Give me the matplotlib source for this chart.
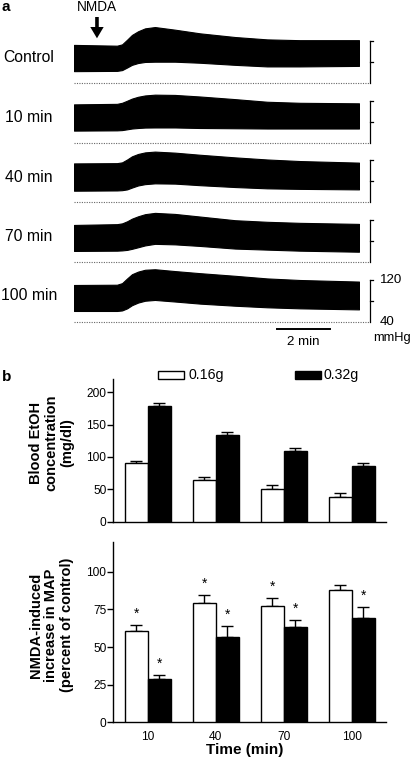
import matplotlib
matplotlib.use('Agg')
import matplotlib.pyplot as plt
import matplotlib.transforms as mtransforms
from matplotlib.patches import Polygon, Rectangle
import numpy as np

plt.rcParams['font.family'] = ['Liberation Sans', 'DejaVu Sans']

# ---------------- data ----------------
row_labels = ['Control', '10 min', '40 min', '70 min', '100 min']
trace_time = [0, 1.61, 1.80, 1.99, 2.17, 2.40, 2.66, 3.03, 3.78, 4.72, 6.03, 7.23, 8.46, 10.67]  # min
upper_control = [112, 110.5, 113, 122, 131, 138, 143.5, 146, 141, 134, 127, 122.5, 121, 121]
lower_control = [62, 62.5, 64, 69, 74, 77.5, 79.5, 80, 80, 78, 74, 71, 71, 72]
upper_10 = [113, 114, 116, 120, 124, 127.5, 130, 131.5, 131, 128, 123, 118, 116, 115]
lower_10 = [63, 63.5, 64, 65.5, 67, 68, 68.8, 69, 69, 68, 67.5, 67, 67, 67]
upper_40 = [113.5, 114, 115.5, 121, 127, 131.5, 134.5, 136, 134, 130, 125, 121, 118, 115]
lower_40 = [61.5, 62, 62.5, 64, 67.5, 71.5, 74, 75.5, 75, 72, 68.5, 66, 65, 64]
upper_70 = [110, 111.5, 113, 117, 122, 126.5, 130.5, 133, 131, 126, 119, 116, 114, 112]
lower_70 = [60.5, 61, 61.5, 62.5, 64.5, 67.5, 71, 74, 73, 70, 65, 63, 61, 59]
upper_100 = [110.5, 111, 114, 123, 131, 136, 139.5, 140.5, 137, 133, 128, 123, 120, 117]
lower_100 = [61, 61, 62, 66, 72, 77, 80.5, 82, 79, 75, 71, 68, 66, 64]
uppers = [upper_control, upper_10, upper_40, upper_70, upper_100]
lowers = [lower_control, lower_10, lower_40, lower_70, lower_100]
scale_mmHg = [40, 80, 120]
nmda_time = 0.86
scale_bar_start, scale_bar_len = 7.59, 2.0

time_labels = ['10', '40', '70', '100']
etoh_016 = [90, 64, 50, 38]
etoh_016_err = [3.5, 5.5, 6.6, 5.7]
etoh_032 = [179, 134, 110, 85.5]
etoh_032_err = [4, 4.6, 3.5, 4.6]
map_016 = [60.5, 79.6, 77.6, 88.2]
map_016_err = [4.3, 5.3, 5.1, 3.3]
map_032 = [29, 56.6, 63.2, 69.2]
map_032_err = [2.7, 7.1, 4.5, 7.3]
star_016 = [True, True, True, False]
star_032 = [True, True, True, True]

# ---------------- figure ----------------
W, H = 412, 762
fig = plt.figure(figsize=(W / 100, H / 100), dpi=100)
px = mtransforms.Affine2D().scale(1 / W, -1 / H).translate(0, 1) + fig.transFigure


def ax_px(l, t, r, b):
    return fig.add_axes([l / W, 1 - b / H, (r - l) / W, (b - t) / H])


# ---------------- panel a ----------------
fig.text(2, 7, 'a', transform=px, fontsize=11, fontweight='bold', va='center', ha='left')
row_base = [82.7, 142.7, 202.0, 261.7, 322.0]
row_label_y = [57.3, 117.3, 177.0, 236.7, 295.0]
k = 42 / 80.0  # px per mmHg
ymin, ymax = 30, 155
x0, x1 = 74, 359
tmax = trace_time[-1]
ppm = (x1 - x0) / tmax
t_br = (370 - x0) / ppm
for i, lab in enumerate(row_labels):
    d = row_base[i]
    ax = ax_px(x0, d - (ymax - 40) * k, x1, d + (40 - ymin) * k)
    ax.set_xlim(0, tmax)
    ax.set_ylim(ymin, ymax)
    ax.axis('off')
    ax.patch.set_visible(False)
    ax.fill_between(trace_time, lowers[i], uppers[i], color='black', lw=0.8)
    ax.plot([0, t_br], [40, 40], ls=(0, (1.0, 1.2)), color='#666666', lw=0.8, clip_on=False)
    ax.plot([t_br, t_br], [scale_mmHg[0], scale_mmHg[-1]], color='black', lw=0.9, clip_on=False)
    for v in scale_mmHg[1:]:
        ax.plot([t_br, t_br + 3 / ppm], [v, v], color='black', lw=0.9, clip_on=False)
    fig.text(29, row_label_y[i], lab, transform=px, fontsize=11.3, ha='center', va='center')
    if i == len(row_labels) - 1:
        ax.plot([scale_bar_start, scale_bar_start + scale_bar_len], [40 - 7.3 / k] * 2,
                color='black', lw=1.4, clip_on=False)
        ax.text(scale_bar_start + scale_bar_len / 2, 40 - 19.7 / k, '2 min', fontsize=9.6,
                ha='center', va='center', clip_on=False)
        ax.text(t_br + 10 / ppm, 120, '120', fontsize=9.6, ha='left', va='center', clip_on=False)
        ax.text(t_br + 10 / ppm, 40, '40', fontsize=9.6, ha='left', va='center', clip_on=False)
        ax.text(t_br + 3 / ppm, 40 - 16.3 / k, 'mmHg', fontsize=9.3, ha='left', va='center', clip_on=False)

# NMDA arrow
ax0x = x0 + nmda_time * ppm
fig.text(ax0x - 0.5, 7.3, 'NMDA', transform=px, fontsize=9.8, ha='center', va='center')
arrow = Polygon([(ax0x - 1.8, 17), (ax0x + 1.8, 17), (ax0x + 1.8, 27), (ax0x + 6.7, 27),
                 (ax0x, 38.3), (ax0x - 6.7, 27), (ax0x - 1.8, 27)],
                closed=True, transform=px, facecolor='black', edgecolor='none')
fig.patches.append(arrow)

# ---------------- panel b ----------------
fig.text(2, 376.7, 'b', transform=px, fontsize=11, fontweight='bold', va='center', ha='left')
xpos = np.arange(len(time_labels))
bw = 0.338


def bar_panel(ax, v1, e1, v2, e2, ylim, yticks, s1=None, s2=None):
    ax.bar(xpos - bw / 2, v1, bw, color='white', edgecolor='black', lw=1, zorder=3)
    ax.bar(xpos + bw / 2, v2, bw, color='black', edgecolor='black', lw=1, zorder=3)
    z = [0] * len(v1)
    ax.errorbar(xpos - bw / 2, v1, yerr=[z, e1], fmt='none', ecolor='black', elinewidth=1,
                capsize=4, capthick=1, zorder=2)
    ax.errorbar(xpos + bw / 2, v2, yerr=[z, e2], fmt='none', ecolor='black', elinewidth=1,
                capsize=4, capthick=1, zorder=2)
    ax.set_xlim(-0.506, 3.5)
    ax.set_ylim(*ylim)
    ax.set_yticks(yticks)
    for s in ['top', 'right']:
        ax.spines[s].set_visible(False)
    for s in ['left', 'bottom']:
        ax.spines[s].set_linewidth(1)
    ax.tick_params(axis='y', length=4, width=1, pad=1, labelsize=8.6)
    if s1 is not None:
        for j in range(len(v1)):
            if s1[j]:
                ax.annotate('*', (xpos[j] - bw / 2, v1[j] + e1[j]), xytext=(0, 5.2),
                            textcoords='offset points', ha='center', va='baseline', fontsize=10)
            if s2[j]:
                ax.annotate('*', (xpos[j] + bw / 2, v2[j] + e2[j]), xytext=(0, 5.2),
                            textcoords='offset points', ha='center', va='baseline', fontsize=10)


axt = ax_px(113.3, 379.3, 385.7, 521.7)
bar_panel(axt, etoh_016, etoh_016_err, etoh_032, etoh_032_err, (0, 220), [0, 50, 100, 150, 200])
axt.set_xticks([])

axb = ax_px(113.3, 541.7, 385.7, 722.3)
bar_panel(axb, map_016, map_016_err, map_032, map_032_err, (0, 120), [0, 25, 50, 75, 100],
          star_016, star_032)
axb.set_xticks(xpos)
axb.set_xticklabels(time_labels)
axb.tick_params(axis='x', length=0, pad=6, labelsize=8.6)

fig.text(51.5, 443, 'Blood EtOH\nconcentration\n(mg/dl)', transform=px, rotation=90,
         ha='center', va='center', multialignment='center', fontsize=10.5,
         fontweight='bold', linespacing=1.15)
fig.text(51.5, 625, 'NMDA-induced\nincrease in MAP\n(percent of control)', transform=px,
         rotation=90, ha='center', va='center', multialignment='center', fontsize=10.5,
         fontweight='bold', linespacing=1.15)
fig.text(244.5, 750, 'Time (min)', transform=px, ha='center', va='center', fontsize=11,
         fontweight='bold')

# legend
fig.patches.append(Rectangle((158.3, 371), 25.7, 8, transform=px, facecolor='white',
                             edgecolor='black', lw=1))
fig.patches.append(Rectangle((295, 371), 25.7, 8, transform=px, facecolor='black',
                             edgecolor='black', lw=1))
fig.text(188.7, 375, '0.16g', transform=px, ha='left', va='center', fontsize=10.2)
fig.text(324, 375, '0.32g', transform=px, ha='left', va='center', fontsize=10.2)

fig.savefig('out.png', dpi=100)
